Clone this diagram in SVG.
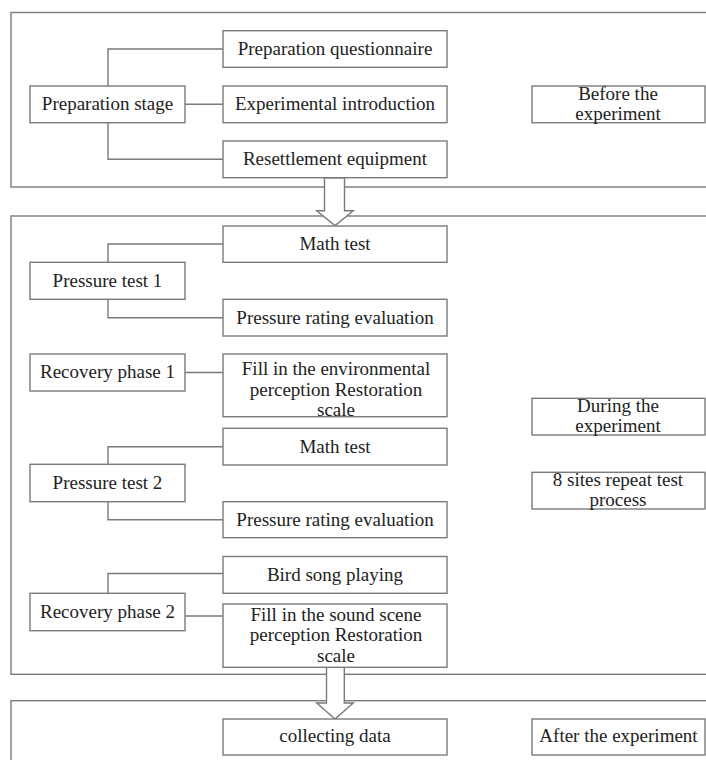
<svg xmlns="http://www.w3.org/2000/svg" width="706" height="760" viewBox="0 0 706 760">
<style>
.frame{fill:none;stroke:#7a7a7a;stroke-width:1.4}
.box{fill:#fff;stroke:#7a7a7a;stroke-width:1.4}
.ln{fill:none;stroke:#7a7a7a;stroke-width:1.4}
.arr{fill:#fff;stroke:#7a7a7a;stroke-width:1.4;stroke-linejoin:miter}
text{font-family:"Liberation Serif","Times New Roman",serif;font-size:19px;fill:#222;text-anchor:middle}
</style>
<rect width="706" height="760" fill="#fff"/>
<g id="frames">
<rect class="frame" x="11" y="12.5" width="720" height="174.5"/>
<rect class="frame" x="11" y="216" width="720" height="458.3"/>
<rect class="frame" x="11" y="700.7" width="720" height="80"/>
</g>
<g id="connectors">
<path class="ln" d="M108,86 V49 H223 M185,104.3 H223 M108,122.7 V159.3 H223"/>
<path class="ln" d="M108,262.3 V244 H223 M108,299.3 V317.7 H223"/>
<path class="ln" d="M185,372.5 H223"/>
<path class="ln" d="M108,464.3 V446.7 H223 M108,501.7 V519.7 H223"/>
<path class="ln" d="M108,593.3 V573.5 H223 M185,616 H223"/>
<path class="arr" d="M324.5,177.7 H344.5 V210.7 H353.3 L335,225.5 L316.7,210.7 H324.5 Z"/>
<path class="arr" d="M326.5,667.3 H344.3 V703 H353.3 L335,719 L316.7,703 H326.5 Z"/>
</g>
<g id="prep-stage"><rect class="box" x="30" y="86" width="155" height="36.7"/><text x="107.5" y="110">Preparation stage</text></g>
<g id="prep-questionnaire"><rect class="box" x="223" y="30.7" width="224" height="36.6"/><text x="335" y="55">Preparation questionnaire</text></g>
<g id="exp-intro"><rect class="box" x="223" y="86" width="224" height="36.7"/><text x="335" y="110">Experimental introduction</text></g>
<g id="resettlement"><rect class="box" x="223" y="141" width="224" height="36.7"/><text x="335" y="165">Resettlement equipment</text></g>
<g id="before"><rect class="box" x="532" y="86" width="173" height="36.7"/><text x="618" y="100">Before the</text><text x="618" y="120">experiment</text></g>
<g id="pressure-test-1"><rect class="box" x="30" y="262.3" width="155" height="37"/><text x="107.5" y="286.5">Pressure test 1</text></g>
<g id="math-test-1"><rect class="box" x="223" y="226" width="224" height="36.3"/><text x="335" y="250">Math test</text></g>
<g id="rating-1"><rect class="box" x="223" y="299.3" width="224" height="36.7"/><text x="335" y="323.5">Pressure rating evaluation</text></g>
<g id="recovery-1"><rect class="box" x="30" y="354" width="155" height="37"/><text x="107.5" y="378">Recovery phase 1</text></g>
<g id="env-scale"><rect class="box" x="223" y="354" width="224" height="62.7"/><text x="336" y="375">Fill in the environmental</text><text x="336" y="395.5">perception Restoration</text><text x="336" y="416">scale</text></g>
<g id="during"><rect class="box" x="532" y="398.3" width="173" height="36.7"/><text x="618" y="411.5">During the</text><text x="618" y="431.5">experiment</text></g>
<g id="math-test-2"><rect class="box" x="223" y="428.3" width="224" height="36.7"/><text x="335" y="452.5">Math test</text></g>
<g id="repeat"><rect class="box" x="532" y="472.3" width="173" height="36.7"/><text x="618" y="485.5">8 sites repeat test</text><text x="618" y="505.5">process</text></g>
<g id="pressure-test-2"><rect class="box" x="30" y="464.3" width="155" height="37.4"/><text x="107.5" y="488.5">Pressure test 2</text></g>
<g id="rating-2"><rect class="box" x="223" y="501.7" width="224" height="36"/><text x="335" y="525.5">Pressure rating evaluation</text></g>
<g id="bird-song"><rect class="box" x="223" y="556.5" width="224" height="36.8"/><text x="335" y="580.5">Bird song playing</text></g>
<g id="recovery-2"><rect class="box" x="30" y="593.3" width="155" height="37.4"/><text x="107.5" y="617.5">Recovery phase 2</text></g>
<g id="sound-scale"><rect class="box" x="223" y="604" width="224" height="63.3"/><text x="336" y="620.7">Fill in the sound scene</text><text x="336" y="641.2">perception Restoration</text><text x="336" y="661.7">scale</text></g>
<g id="collecting"><rect class="box" x="223" y="719" width="224" height="36"/><text x="335" y="742">collecting data</text></g>
<g id="after"><rect class="box" x="532" y="719" width="173" height="36"/><text x="618.5" y="742">After the experiment</text></g>
</svg>
